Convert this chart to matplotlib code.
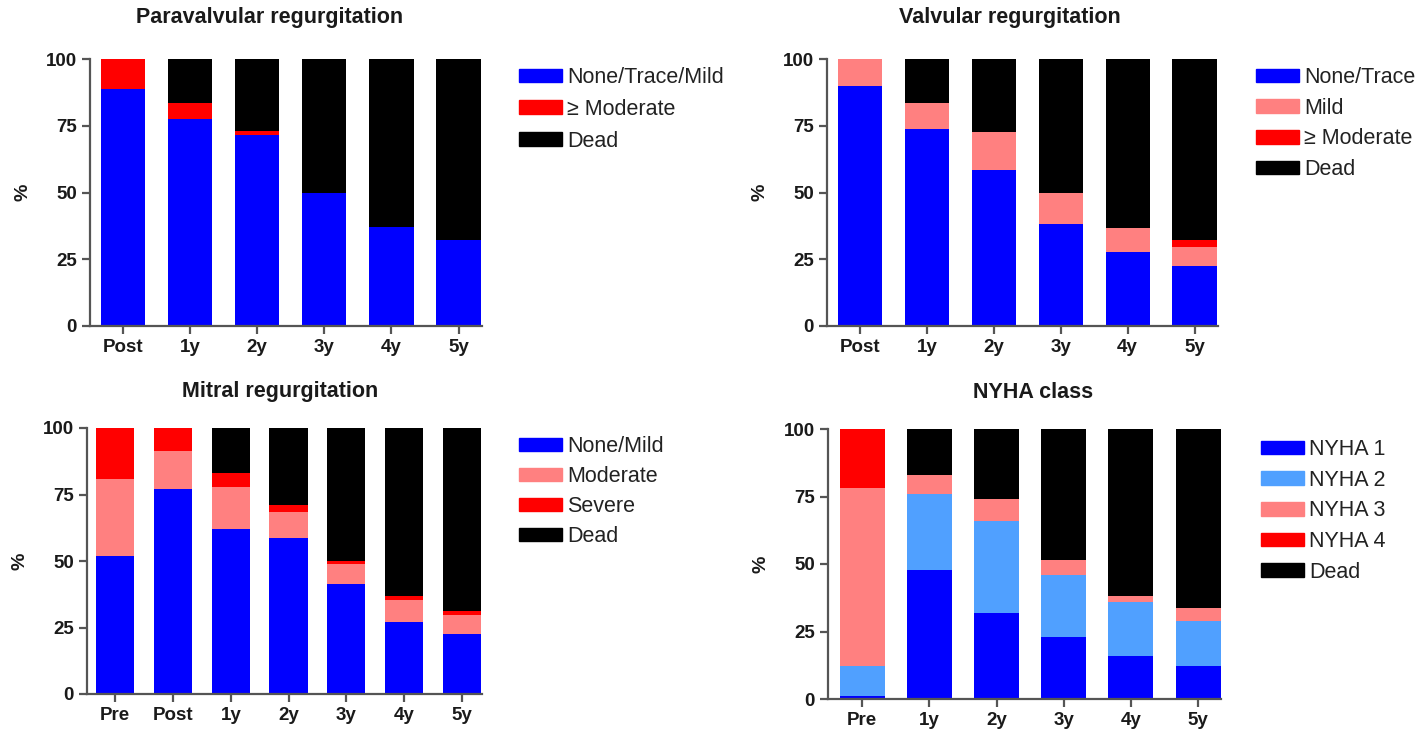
import numpy as np
import matplotlib.pyplot as plt
from matplotlib.patches import Patch

plt.rcParams['font.family'] = ['Liberation Sans', 'DejaVu Sans']

BLUE = '#0000FF'
LBLUE = '#50A0FF'
PINK = '#FF8080'
RED = '#FF0000'
BLACK = '#000000'

# Paravalvular regurgitation
pv_labels = ['Post', '1y', '2y', '3y', '4y', '5y']
pv_none = [88.6, 77.4, 71.5, 50.0, 37.0, 32.2]
pv_mod = [11.4, 6.0, 1.5, 0.0, 0.0, 0.0]
pv_dead = [0.0, 16.6, 27.0, 50.0, 63.0, 67.8]

# Valvular regurgitation
vr_labels = ['Post', '1y', '2y', '3y', '4y', '5y']
vr_none = [89.9, 73.9, 58.4, 38.2, 27.6, 22.5]
vr_mild = [10.1, 9.5, 14.1, 11.8, 9.2, 7.2]
vr_mod = [0.0, 0.0, 0.0, 0.0, 0.0, 2.6]
vr_dead = [0.0, 16.6, 27.5, 50.0, 63.2, 67.7]

# Mitral regurgitation
mr_labels = ['Pre', 'Post', '1y', '2y', '3y', '4y', '5y']
mr_none = [52.0, 77.2, 62.0, 58.5, 41.5, 27.2, 22.5]
mr_mod = [28.7, 14.1, 16.0, 9.9, 7.2, 8.2, 7.2]
mr_sev = [19.3, 8.7, 4.9, 2.6, 1.3, 1.3, 1.5]
mr_dead = [0.0, 0.0, 17.1, 29.0, 50.0, 63.3, 68.8]

# NYHA class
ny_labels = ['Pre', '1y', '2y', '3y', '4y', '5y']
ny_1 = [1.2, 47.6, 31.9, 22.8, 16.1, 12.4]
ny_2 = [11.1, 28.4, 34.0, 23.1, 19.9, 16.5]
ny_3 = [66.0, 7.0, 8.2, 5.4, 2.0, 4.9]
ny_4 = [21.7, 0.0, 0.0, 0.0, 0.0, 0.0]
ny_dead = [0.0, 17.0, 25.9, 48.7, 62.0, 66.2]

W, H = 1424, 731
fig = plt.figure(figsize=(W / 100, H / 100), dpi=100)


def make_ax(left, right, top, bottom):
    return fig.add_axes([left / W, 1 - bottom / H, (right - left) / W, (bottom - top) / H])


def stacked(ax, labels, series, colors, names, xlim, width, title, title_xy, leg_xy, leg_sp):
    x = np.arange(len(labels))
    base = np.zeros(len(labels))
    for vals, c in zip(series, colors):
        ax.bar(x, vals, width, bottom=base, color=c, linewidth=0)
        base += np.array(vals)
    ax.set_xlim(*xlim)
    ax.set_ylim(0, 100)
    ax.set_yticks([0, 25, 50, 75, 100])
    ax.set_xticks(x)
    ax.set_xticklabels(labels)
    for s in ['top', 'right']:
        ax.spines[s].set_visible(False)
    for s in ['left', 'bottom']:
        ax.spines[s].set_color('#555555')
        ax.spines[s].set_linewidth(1.6)
    ax.tick_params(axis='both', color='#555555', width=1.6, length=6,
                   labelsize=13.5, labelcolor='#1a1a1a')
    for t in ax.get_xticklabels() + ax.get_yticklabels():
        t.set_fontweight('bold')
    ax.set_ylabel('%', fontsize=14, fontweight='bold', color='#1a1a1a', labelpad=10)
    fig.text(title_xy[0] / W, 1 - title_xy[1] / H, title, fontsize=15.5,
             fontweight='bold', ha='center', va='center', color='#1a1a1a')
    handles = [Patch(color=c, label=n) for c, n in zip(colors, names)]
    fig.legend(handles=handles, loc='upper left',
               bbox_to_anchor=(leg_xy[0] / W, 1 - leg_xy[1] / H),
               frameon=False, fontsize=15.5, handlelength=2.0, handleheight=0.6,
               handletextpad=0.25, labelspacing=leg_sp, borderpad=0,
               borderaxespad=0, labelcolor='#222222')


ax1 = make_ax(90, 482, 59, 326)
stacked(ax1, pv_labels, [pv_none, pv_mod, pv_dead], [BLUE, RED, BLACK],
        ['None/Trace/Mild', '\u2265 Moderate', 'Dead'], (-0.49, 5.35), 0.66,
        'Paravalvular regurgitation', (270, 18), (519, 67), 0.5)

ax2 = make_ax(827, 1218, 59, 326)
stacked(ax2, vr_labels, [vr_none, vr_mild, vr_mod, vr_dead], [BLUE, PINK, RED, BLACK],
        ['None/Trace', 'Mild', '\u2265 Moderate', 'Dead'], (-0.49, 5.35), 0.66,
        'Valvular regurgitation', (1010, 18), (1256, 67), 0.45)

ax3 = make_ax(87, 482, 428, 694)
stacked(ax3, mr_labels, [mr_none, mr_mod, mr_sev, mr_dead], [BLUE, PINK, RED, BLACK],
        ['None/Mild', 'Moderate', 'Severe', 'Dead'], (-0.49, 6.35), 0.66,
        'Mitral regurgitation', (280, 392), (519, 436), 0.42)

ax4 = make_ax(828, 1221, 429, 699)
stacked(ax4, ny_labels, [ny_1, ny_2, ny_3, ny_4, ny_dead], [BLUE, LBLUE, PINK, RED, BLACK],
        ['NYHA 1', 'NYHA 2', 'NYHA 3', 'NYHA 4', 'Dead'], (-0.51, 5.34), 0.67,
        'NYHA class', (1033, 392), (1261, 439), 0.45)

fig.savefig('out.png', dpi=100)
